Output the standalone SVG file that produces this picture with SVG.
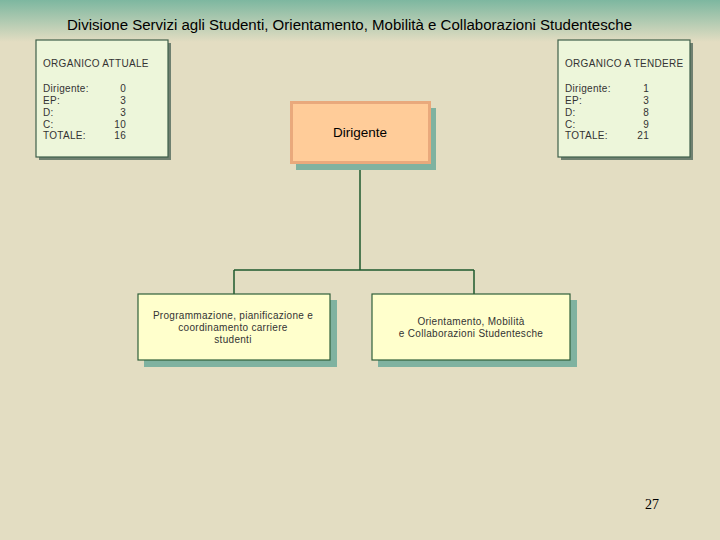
<svg xmlns="http://www.w3.org/2000/svg" width="720" height="540" viewBox="0 0 720 540">
<defs>
<linearGradient id="bg" x1="0" y1="0" x2="0" y2="1">
<stop offset="0" stop-color="#7DB7A0"/>
<stop offset="1" stop-color="#E3DDC2"/>
</linearGradient>
</defs>
<style>
.t{font-family:"Liberation Sans",Arial,sans-serif;fill:#000}
.s{font-family:"Liberation Sans",Arial,sans-serif;font-size:10px;fill:#333;letter-spacing:0.3px}
.org{fill:#EDF6DA;stroke:#3F5F4A;stroke-width:1.2}
.orgsh{fill:#6F8070}
.unit{fill:#FFFFCC;stroke:#2F5F3A;stroke-width:1.2}
.sh{fill:#7FB2A0}
.con{stroke:#1F5A2E;stroke-width:1.5;fill:none}
</style>
<rect width="720" height="540" fill="#E3DDC2"/>
<rect width="720" height="42" fill="url(#bg)"/>
<text class="t" x="67" y="30" font-size="14" textLength="565" lengthAdjust="spacingAndGlyphs">Divisione Servizi agli Studenti, Orientamento, Mobilità e Collaborazioni Studentesche</text>
<g id="connectors">
<path class="con" d="M360,163 V270 M234,270 H474 M234,270 V294 M474,270 V294"/>
</g>
<g id="organico-attuale">
<rect class="orgsh" x="39" y="43" width="132" height="117"/>
<rect class="org" x="36" y="40" width="132" height="117"/>
<text class="s" x="43" y="67">ORGANICO ATTUALE</text>
<text class="s" x="43" y="92">Dirigente:</text>
<text class="s" x="43" y="104">EP:</text>
<text class="s" x="43" y="116">D:</text>
<text class="s" x="43" y="128">C:</text>
<text class="s" x="43" y="139">TOTALE:</text>
<text class="s" x="126" y="92" text-anchor="end">0</text>
<text class="s" x="126" y="104" text-anchor="end">3</text>
<text class="s" x="126" y="116" text-anchor="end">3</text>
<text class="s" x="126" y="128" text-anchor="end">10</text>
<text class="s" x="126" y="139" text-anchor="end">16</text>
</g>
<g id="organico-tendere">
<rect class="orgsh" x="561" y="43" width="132" height="117"/>
<rect class="org" x="558" y="40" width="132" height="117"/>
<text class="s" x="565" y="67">ORGANICO A TENDERE</text>
<text class="s" x="565" y="92">Dirigente:</text>
<text class="s" x="565" y="104">EP:</text>
<text class="s" x="565" y="116">D:</text>
<text class="s" x="565" y="128">C:</text>
<text class="s" x="565" y="139">TOTALE:</text>
<text class="s" x="649" y="92" text-anchor="end">1</text>
<text class="s" x="649" y="104" text-anchor="end">3</text>
<text class="s" x="649" y="116" text-anchor="end">8</text>
<text class="s" x="649" y="128" text-anchor="end">9</text>
<text class="s" x="649" y="139" text-anchor="end">21</text>
</g>
<g id="dirigente">
<rect class="sh" x="296" y="108" width="140" height="62"/>
<rect x="291.5" y="102.5" width="138" height="60" fill="#FFCC99" stroke="#E9A97C" stroke-width="3"/>
<text class="t" x="360" y="137" font-size="13.5" text-anchor="middle">Dirigente</text>
</g>
<g id="programmazione">
<rect class="sh" x="144" y="300" width="193" height="67"/>
<rect class="unit" x="138" y="294" width="192" height="66"/>
<text class="s" x="233" y="319" text-anchor="middle">Programmazione, pianificazione e</text>
<text class="s" x="233" y="331" text-anchor="middle">coordinamento carriere</text>
<text class="s" x="233" y="343" text-anchor="middle">studenti</text>
</g>
<g id="orientamento">
<rect class="sh" x="378" y="300" width="199" height="67"/>
<rect class="unit" x="372" y="294" width="198" height="66"/>
<text class="s" x="471" y="325" text-anchor="middle">Orientamento, Mobilità</text>
<text class="s" x="471" y="337" text-anchor="middle">e Collaborazioni Studentesche</text>
</g>
<text x="652" y="509" font-family="Liberation Serif,serif" font-size="14" text-anchor="middle" fill="#000">27</text>
</svg>
